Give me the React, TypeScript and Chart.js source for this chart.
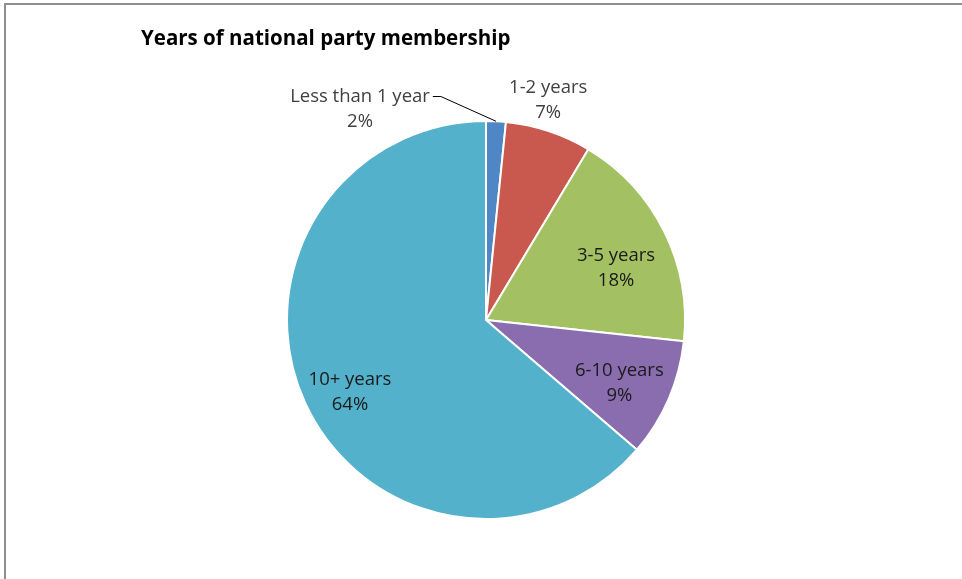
import React, { useEffect, useRef } from "react";
import { Chart, registerables } from "chart.js";

Chart.register(...registerables);

const TITLE = "Years of national party membership";
const categories = ["Less than 1 year", "1-2 years", "3-5 years", "6-10 years", "10+ years"];
const values = [1.6, 7.0, 18.1, 9.6, 63.7];
const percentLabels = ["2%", "7%", "18%", "9%", "64%"];
const colors = ["#4F86C6", "#C9584F", "#A3C162", "#8A6DAE", "#53B1CB"];

const FONT = "'Open Sans', Lato, sans-serif";

// label placement tweaks (dx, dy) relative to the computed anchor
const labelNudge: [number, number][] = [
  [0, 0],
  [-8, -5],
  [0, 12],
  [0, 5],
  [-4, 11],
];

const decorPlugin = {
  id: "decor",
  beforeDraw(chart: any) {
    const ctx = chart.ctx;
    ctx.save();
    ctx.fillStyle = "#ffffff";
    ctx.fillRect(0, 0, chart.width, chart.height);
    ctx.strokeStyle = "#8f8f8f";
    ctx.lineWidth = 2;
    ctx.beginPath();
    ctx.moveTo(5, chart.height + 5);
    ctx.lineTo(5, 4);
    ctx.lineTo(chart.width + 5, 4);
    ctx.stroke();
    ctx.fillStyle = "#000000";
    ctx.font = `bold 20.5px ${FONT}`;
    ctx.textAlign = "left";
    ctx.textBaseline = "middle";
    ctx.fillText(TITLE, 141, 39);
    ctx.restore();
  },
  afterDatasetsDraw(chart: any) {
    const ctx = chart.ctx;
    const meta = chart.getDatasetMeta(0);
    ctx.save();
    ctx.font = `18.5px ${FONT}`;
    ctx.textAlign = "center";
    ctx.textBaseline = "middle";
    meta.data.forEach((arc: any, i: number) => {
      const { x, y, startAngle, endAngle, outerRadius } = arc.getProps(
        ["x", "y", "startAngle", "endAngle", "outerRadius"],
        true
      );
      const mid = (startAngle + endAngle) / 2;
      let lx: number, ly: number;
      if (i === 0) {
        lx = x - 126;
        ly = y - 211;
        ctx.fillStyle = "#404040";
        const w = ctx.measureText(categories[i]).width;
        const sx = lx + w / 2 + 3;
        ctx.strokeStyle = "#000000";
        ctx.lineWidth = 1;
        ctx.beginPath();
        ctx.moveTo(sx, y - 223.5);
        ctx.lineTo(sx + 8, y - 223.5);
        ctx.lineTo(x + Math.cos(mid) * outerRadius, y + Math.sin(mid) * outerRadius);
        ctx.stroke();
      } else if (i === 1) {
        const r = outerRadius * 1.12;
        lx = x + Math.cos(mid) * r;
        ly = y + Math.sin(mid) * r - 4;
      } else {
        const r = outerRadius * 0.73;
        lx = x + Math.cos(mid) * r;
        ly = y + Math.sin(mid) * r;
      }
      lx += labelNudge[i][0];
      ly += labelNudge[i][1];
      ctx.fillStyle = i <= 1 ? "#404040" : "#1a1a1a";
      ctx.fillText(categories[i], lx, ly - 12);
      ctx.fillText(percentLabels[i], lx, ly + 13);
    });
    ctx.restore();
  },
};

export default function App() {
  const ref = useRef<HTMLCanvasElement>(null);
  useEffect(() => {
    if (!ref.current) return;
    const chart = new Chart(ref.current, {
      type: "pie",
      data: {
        labels: categories,
        datasets: [
          {
            data: values,
            backgroundColor: colors,
            borderColor: "#ffffff",
            borderWidth: 2,
          },
        ],
      },
      options: {
        responsive: false,
        animation: false,
        layout: { padding: { top: 120, bottom: 59, left: 286, right: 276 } },
        plugins: {
          legend: { display: false },
          tooltip: { enabled: false },
          title: { display: false },
        },
      },
      plugins: [decorPlugin],
    });
    return () => chart.destroy();
  }, []);
  return (
    <div style={{ position: "fixed", left: 0, top: 0, width: 962, height: 579, overflow: "hidden" }}>
      <canvas ref={ref} width={962} height={579} style={{ display: "block" }} />
    </div>
  );
}
